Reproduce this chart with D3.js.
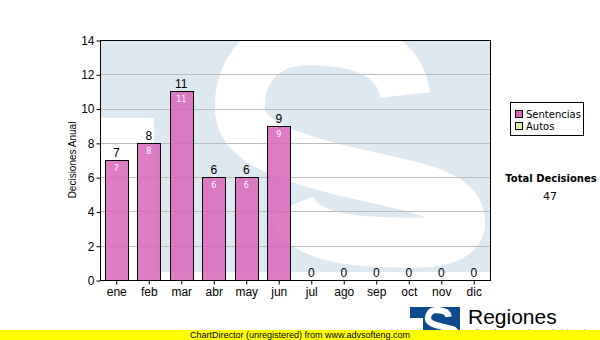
<!DOCTYPE html>
<html>
<head>
<meta charset="utf-8">
<script src="https://cdn.jsdelivr.net/npm/d3@7"></script>
<style>
  body { margin: 0; background: #fff; }
  svg { display: block; }
</style>
</head>
<body>
<div id="chart"></div>
<script>
/**
 * DATA
 * */
const months = ["ene", "feb", "mar", "abr", "may", "jun", "jul", "ago", "sep", "oct", "nov", "dic"];
const sentencias = [7, 8, 11, 6, 6, 9, 0, 0, 0, 0, 0, 0];
const autos = [0, 0, 0, 0, 0, 0, 0, 0, 0, 0, 0, 0];
const yTicks = [0, 2, 4, 6, 8, 10, 12, 14];
const seriesNames = ["Sentencias", "Autos"];
const seriesColors = ["#d865b8", "#d8f0a0"];
const totalLabel = "Total Decisiones";

/**
 * CONSTANTS
 * */
const width = 600, height = 340,
  margin = { top: 40, bottom: 60, left: 100, right: 110 };
const font = "'Liberation Sans', Arial, sans-serif";
const verdana = "'DejaVu Sans', Verdana, sans-serif";

// "S" of the logo, drawn as a thick stroke along its centre line
const logoS = "M405,95 C400,50 350,40 305,40 C255,42 238,80 240,110 " +
  "C242,140 280,155 340,170 C400,185 458,190 460,220 " +
  "C462,245 420,244 380,242 C330,240 300,230 290,206";

const svg = d3.select("#chart").append("svg")
  .attr("width", width)
  .attr("height", height);

const x = d3.scaleBand()
  .domain(months)
  .range([margin.left, width - margin.right])
  .paddingInner(0.3)
  .paddingOuter(0.15);

const y = d3.scaleLinear()
  .domain([0, 14])
  .range([height - margin.bottom, margin.top]);

const plotW = width - margin.right - margin.left;
const plotH = height - margin.bottom - margin.top;

// + WATERMARK (big logo behind the plot)
svg.append("clipPath").attr("id", "plotClip")
  .append("rect")
  .attr("x", margin.left).attr("y", margin.top)
  .attr("width", plotW).attr("height", plotH);

const wm = svg.append("g").attr("clip-path", "url(#plotClip)");
wm.append("rect")
  .attr("x", margin.left).attr("y", margin.top)
  .attr("width", plotW).attr("height", 232)
  .attr("fill", "#dee8f1");
wm.append("rect")
  .attr("x", margin.left).attr("y", 118)
  .attr("width", 54).attr("height", 170)
  .attr("fill", "#fff");
wm.append("path")
  .attr("d", logoS)
  .attr("fill", "none")
  .attr("stroke", "#fff")
  .attr("stroke-width", 50);

// + GRID
svg.append("g")
  .selectAll("line")
  .data(yTicks.filter(d => d > 0 && d < 14))
  .join("line")
  .attr("x1", margin.left).attr("x2", width - margin.right)
  .attr("y1", d => Math.round(y(d)) + 0.5)
  .attr("y2", d => Math.round(y(d)) + 0.5)
  .attr("stroke", "#bcbcbc");

// + BARS (stacked)
const stackData = months.map((m, i) => ({ month: m, Sentencias: sentencias[i], Autos: autos[i] }));
const stacked = d3.stack().keys(seriesNames)(stackData);

svg.append("g")
  .selectAll("g")
  .data(stacked)
  .join("g")
  .attr("fill", (d, i) => seriesColors[i])
  .attr("fill-opacity", 0.85)
  .selectAll("rect")
  .data(d => d.filter(s => s[1] - s[0] > 0))
  .join("rect")
  .attr("x", d => Math.round(x(d.data.month)) + 0.5)
  .attr("y", d => Math.round(y(d[1])) + 0.5)
  .attr("width", Math.round(x.bandwidth()))
  .attr("height", d => Math.round(y(d[0])) - Math.round(y(d[1])))
  .attr("stroke", "#000")
  .attr("stroke-width", 1);

// labels inside bars
svg.append("g")
  .selectAll("text")
  .data(stacked[0].filter(s => s[1] - s[0] > 0))
  .join("text")
  .attr("x", d => x(d.data.month) + x.bandwidth() / 2)
  .attr("y", d => y(d[1]) + 11)
  .attr("text-anchor", "middle")
  .attr("font-family", verdana)
  .attr("font-size", 8)
  .attr("fill", "#fff")
  .text(d => d[1] - d[0]);

// totals above bars
svg.append("g")
  .selectAll("text")
  .data(stackData)
  .join("text")
  .attr("x", d => x(d.month) + x.bandwidth() / 2)
  .attr("y", d => y(d.Sentencias + d.Autos) - 3)
  .attr("text-anchor", "middle")
  .attr("font-family", font)
  .attr("font-size", 12)
  .attr("fill", "#000")
  .text(d => d.Sentencias + d.Autos);

// + FRAME
svg.append("rect")
  .attr("x", margin.left + 0.5).attr("y", margin.top + 0.5)
  .attr("width", plotW).attr("height", plotH)
  .attr("fill", "none")
  .attr("stroke", "#000");

// + AXES
const yAxis = svg.append("g")
  .attr("transform", `translate(${margin.left + 0.5},0.5)`)
  .call(d3.axisLeft(y).tickValues(yTicks).tickSize(4).tickPadding(2).tickFormat(d3.format("d")));
const xAxis = svg.append("g")
  .attr("transform", `translate(0.5,${height - margin.bottom + 0.5})`)
  .call(d3.axisBottom(x).tickSize(4).tickPadding(3));

[yAxis, xAxis].forEach(a => {
  a.select(".domain").remove();
  a.selectAll("text").attr("font-family", font).attr("font-size", 12).attr("fill", "#000");
});

svg.append("text")
  .attr("transform", `translate(76,${margin.top + plotH / 2}) rotate(-90)`)
  .attr("text-anchor", "middle")
  .attr("font-family", font)
  .attr("font-size", 10)
  .text("Decisiones Anual");

// + LEGEND
const legend = svg.append("g").attr("transform", "translate(510,102)");
legend.append("rect")
  .attr("x", 0.5).attr("y", 0.5)
  .attr("width", 73).attr("height", 33)
  .attr("fill", "#fff").attr("stroke", "#000");
seriesNames.forEach((name, i) => {
  legend.append("rect")
    .attr("x", 5.5).attr("y", 8.5 + i * 12)
    .attr("width", 7).attr("height", 7)
    .attr("fill", seriesColors[i]).attr("stroke", "#000");
  legend.append("text")
    .attr("x", 16).attr("y", 16 + i * 12)
    .attr("font-family", verdana)
    .attr("font-size", 10)
    .text(name);
});

svg.append("text")
  .attr("x", 551).attr("y", 182)
  .attr("text-anchor", "middle")
  .attr("font-family", verdana).attr("font-weight", "bold")
  .attr("font-size", 10)
  .text(totalLabel);
svg.append("text")
  .attr("x", 550).attr("y", 200)
  .attr("text-anchor", "middle")
  .attr("font-family", verdana)
  .attr("font-size", 11)
  .text(d3.sum(sentencias) + d3.sum(autos));

// + FOOTER LOGO
const logo = svg.append("g");
logo.append("clipPath").attr("id", "logoClip")
  .append("rect").attr("x", 410).attr("y", 307).attr("width", 50).attr("height", 30);
const lg = logo.append("g").attr("clip-path", "url(#logoClip)");
lg.append("rect").attr("x", 410).attr("y", 307).attr("width", 50).attr("height", 30).attr("fill", "#0f4a8e");
lg.append("rect").attr("x", 410).attr("y", 318).attr("width", 13).attr("height", 20).attr("fill", "#fff");
lg.append("path")
  .attr("d", logoS)
  .attr("transform", "translate(398,305) scale(0.125)")
  .attr("fill", "none")
  .attr("stroke", "#fff")
  .attr("stroke-width", 50);
svg.append("text")
  .attr("x", 468).attr("y", 324)
  .attr("font-family", font)
  .attr("font-size", 21)
  .text("Regiones");
svg.append("text")
  .attr("x", 468).attr("y", 336)
  .attr("font-family", font)
  .attr("font-size", 9)
  .attr("fill", "#444")
  .attr("textLength", 126)
  .attr("lengthAdjust", "spacingAndGlyphs")
  .text("Tribunal Contencioso Administrativo");

// + UNREGISTERED BANNER
svg.append("rect")
  .attr("x", 0).attr("y", 330)
  .attr("width", width).attr("height", 10)
  .attr("fill", "#ffff00");
svg.append("text")
  .attr("x", 190).attr("y", 338)
  .attr("font-family", font)
  .attr("font-size", 9)
  .text("ChartDirector (unregistered) from www.advsofteng.com");
</script>
</body>
</html>
